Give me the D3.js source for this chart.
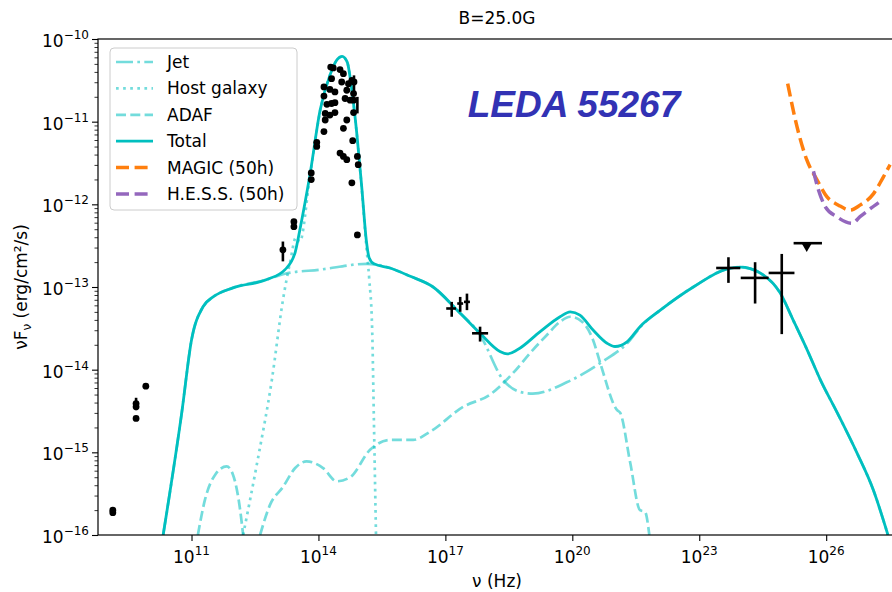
<!DOCTYPE html>
<html>
<head>
<meta charset="utf-8">
<script src="https://cdn.jsdelivr.net/npm/d3@7"></script>
<style>
    body { margin: 0; background: #ffffff; }
    text { font-family: "DejaVu Sans", sans-serif; fill: #000; }
</style>
</head>
<body>
<div id="chart"></div>
<script>

// all values are [log10 nu (Hz), log10 nuFnu (erg/cm2/s)]

const jetCurve = [
    [10.33, -16.0], [10.77, -14.52], [11.0, -13.64], [11.27, -13.24], [11.51, -13.12],
    [11.98, -13.01], [12.78, -12.91], [13.21, -12.84], [14.04, -12.79], [15.15, -12.72],
    [15.69, -12.77], [16.17, -12.87], [16.71, -13.0], [17.28, -13.28], [17.82, -13.58],
    [18.36, -14.12], [18.77, -14.27], [19.07, -14.29], [19.88, -14.15], [20.66, -13.92],
    [21.37, -13.64], [21.6, -13.49], [22.08, -13.28], [22.86, -13.0], [23.66, -12.78],
    [23.97, -12.76], [24.44, -12.83], [24.91, -13.07], [25.22, -13.4], [25.55, -13.76],
    [25.86, -14.12], [26.26, -14.52], [26.73, -15.01], [27.11, -15.45], [27.46, -16.0]
];

const hostCurve = [
    [12.22, -16.0], [12.55, -15.13], [12.9, -14.12], [13.16, -13.16], [13.33, -12.7],
    [13.47, -12.4], [13.56, -12.45], [13.8, -11.66], [14.04, -10.87], [14.27, -10.44],
    [14.44, -10.25], [14.56, -10.21], [14.68, -10.28], [14.79, -10.62], [14.91, -11.17],
    [15.03, -11.85], [15.13, -12.5], [15.2, -12.9], [15.27, -13.52], [15.31, -14.6],
    [15.36, -16.0]
];

const adafCurveLow = [
    [11.15, -16.0], [11.32, -15.57], [11.56, -15.27], [11.83, -15.17], [11.98, -15.27],
    [12.15, -15.7], [12.22, -16.0]
];

const adafCurveHigh = [
    [12.62, -16.0], [12.86, -15.63], [13.16, -15.42], [13.45, -15.19], [13.72, -15.11],
    [14.11, -15.19], [14.43, -15.35], [14.75, -15.3], [15.22, -14.97], [15.69, -14.85],
    [16.24, -14.85], [16.64, -14.75], [17.42, -14.45], [18.06, -14.3], [18.6, -14.04],
    [19.07, -13.76], [19.4, -13.58], [19.71, -13.42], [19.95, -13.36], [20.23, -13.42],
    [20.49, -13.64], [20.66, -13.92], [21.06, -14.49], [21.13, -14.52], [21.37, -15.13],
    [21.6, -15.7], [21.72, -15.72], [21.82, -16.0]
];

const totalCurve = [
    [10.33, -16.0], [10.77, -14.52], [11.0, -13.64], [11.27, -13.24], [11.51, -13.12],
    [11.98, -13.01], [12.78, -12.91], [13.21, -12.79], [13.45, -12.58], [13.56, -12.31],
    [13.8, -11.64], [14.04, -10.86], [14.27, -10.44], [14.44, -10.25], [14.56, -10.21],
    [14.68, -10.28], [14.79, -10.62], [14.91, -11.16], [15.03, -11.83], [15.13, -12.43],
    [15.2, -12.65], [15.31, -12.72], [15.69, -12.77], [16.17, -12.87], [16.71, -13.0],
    [17.28, -13.28], [17.82, -13.56], [18.29, -13.78], [18.46, -13.81], [18.7, -13.76],
    [19.24, -13.54], [19.71, -13.36], [19.95, -13.3], [20.18, -13.34], [20.49, -13.52],
    [20.82, -13.68], [21.01, -13.72], [21.3, -13.66], [21.6, -13.48], [22.08, -13.28],
    [22.86, -13.0], [23.66, -12.78], [23.97, -12.76], [24.44, -12.83], [24.91, -13.07],
    [25.22, -13.4], [25.55, -13.76], [25.86, -14.12], [26.26, -14.52], [26.73, -15.01],
    [27.11, -15.45], [27.46, -16.0]
];

const magicSens = [
    [25.09, -10.54], [25.31, -11.06], [25.54, -11.46], [25.78, -11.7], [26.02, -11.91],
    [26.29, -12.01], [26.57, -12.07], [26.8, -12.01], [27.12, -11.87], [27.35, -11.67],
    [27.51, -11.52]
];

const hessSens = [
    [25.7, -11.6], [25.82, -11.83], [25.98, -12.03], [26.25, -12.15], [26.61, -12.23],
    [26.8, -12.15], [27.0, -12.07], [27.24, -11.98]
];

// plain flux points (radio, IR / optical)
const dataPoints = [
    [9.14, -15.7], [9.14, -15.73], [9.69, -14.41], [9.69, -14.45], [9.69, -14.59], [9.92, -14.2],
    [13.16, -12.55], [13.42, -12.21], [13.42, -12.27], [13.83, -11.62], [13.83, -11.7],
    [13.96, -11.25], [13.96, -11.3], [14.13, -10.58], [14.13, -10.69], [14.13, -11.12],
    [14.16, -10.9], [14.16, -10.98], [14.2, -10.79], [14.27, -10.61], [14.27, -10.92],
    [14.29, -10.34], [14.31, -10.48], [14.31, -10.78], [14.35, -10.35], [14.39, -10.64],
    [14.39, -10.77], [14.39, -10.89], [14.51, -10.37], [14.51, -11.38], [14.55, -10.52],
    [14.59, -10.42], [14.59, -11.08], [14.59, -11.42], [14.63, -10.72], [14.67, -10.62],
    [14.67, -10.98], [14.67, -11.46], [14.71, -10.54], [14.75, -10.74], [14.79, -10.5],
    [14.79, -11.74], [14.81, -11.23], [14.83, -10.66], [14.83, -10.74], [14.83, -10.89],
    [14.84, -10.52], [14.92, -11.42], [14.92, -12.37], [14.94, -11.52]
];

// [nu, flux, nuLow, nuHigh, fluxLow, fluxHigh]
const errorPoints = [
    [9.69, -14.41, 9.69, 9.69, -14.49, -14.34],
    [13.16, -12.55, 13.16, 13.16, -12.69, -12.45],
    [14.84, -10.52, 14.84, 14.84, -10.66, -10.44],
    [14.92, -10.8, 14.92, 14.92, -10.9, -10.7],
    [17.15, -13.26, 17.02, 17.25, -13.36, -13.18],
    [17.35, -13.2, 17.28, 17.42, -13.3, -13.12],
    [17.51, -13.18, 17.44, 17.58, -13.28, -13.08],
    [17.82, -13.56, 17.63, 18.01, -13.66, -13.48],
    [23.69, -12.77, 23.4, 23.97, -12.95, -12.64],
    [24.32, -12.89, 23.98, 24.64, -13.2, -12.7],
    [24.95, -12.83, 24.64, 25.25, -13.57, -12.6]
];

// [nu, flux, nuLow, nuHigh]
const upperLimits = [
    [25.54, -12.47, 25.23, 25.9]
];

const xTickExps = [11, 14, 17, 20, 23, 26];
const yTickExps = [-16, -15, -14, -13, -12, -11, -10];

const legendItems = [
    { label: "Jet", color: "#00bfbf", opacity: 0.55, dash: "17,4.3,2.7,4.3", width: 2.7 },
    { label: "Host galaxy", color: "#00bfbf", opacity: 0.55, dash: "2.7,4.4", width: 2.7 },
    { label: "ADAF", color: "#00bfbf", opacity: 0.55, dash: "10,4.3", width: 2.7 },
    { label: "Total", color: "#00bfbf", opacity: 1, dash: null, width: 2.8 },
    { label: "MAGIC (50h)", color: "#ff7f0e", opacity: 1, dash: "13,5.6", width: 3.5 },
    { label: "H.E.S.S. (50h)", color: "#9467bd", opacity: 1, dash: "13,5.6", width: 3.5 }
];

function drawSED() {

    const dimensions = {
        width: 892,
        height: 592,
        left: 98,
        right: 896,
        top: 39,
        bottom: 535
    };

    const svg = d3.select("#chart")
        .append("svg")
        .attr("width", dimensions.width)
        .attr("height", dimensions.height);

    const xScale = d3.scaleLog()
        .domain([10 ** 8.79, 10 ** 27.65])
        .range([dimensions.left, dimensions.right]);

    const yScale = d3.scaleLog()
        .domain([1e-16, 1e-10])
        .range([dimensions.bottom, dimensions.top]);

    const xAccessor = d => xScale(10 ** d[0]);
    const yAccessor = d => yScale(10 ** d[1]);

    svg.append("clipPath")
        .attr("id", "plot-clip")
        .append("rect")
        .attr("x", dimensions.left)
        .attr("y", dimensions.top)
        .attr("width", dimensions.right - dimensions.left)
        .attr("height", dimensions.bottom - dimensions.top);

    const plot = svg.append("g").attr("clip-path", "url(#plot-clip)");

    const line = d3.line()
        .x(xAccessor)
        .y(yAccessor)
        .curve(d3.curveMonotoneX);

    const drawCurve = (data, style) => {
        plot.append("path")
            .datum(data)
            .attr("fill", "none")
            .attr("stroke", style.color)
            .attr("stroke-opacity", style.opacity)
            .attr("stroke-width", style.width)
            .attr("stroke-dasharray", style.dash)
            .attr("d", line);
    };

    drawCurve(jetCurve, legendItems[0]);
    drawCurve(hostCurve, legendItems[1]);
    drawCurve(adafCurveLow, legendItems[2]);
    drawCurve(adafCurveHigh, legendItems[2]);
    drawCurve(totalCurve, legendItems[3]);
    drawCurve(magicSens, legendItems[4]);
    drawCurve(hessSens, legendItems[5]);

    // error bars
    const bars = plot.append("g")
        .attr("stroke", "#000")
        .attr("stroke-width", 2.6);

    bars.selectAll("line.xerr")
        .data(errorPoints.filter(d => d[2] !== d[3]))
        .join("line")
        .attr("class", "xerr")
        .attr("x1", d => xScale(10 ** d[2]))
        .attr("x2", d => xScale(10 ** d[3]))
        .attr("y1", yAccessor)
        .attr("y2", yAccessor);

    bars.selectAll("line.yerr")
        .data(errorPoints)
        .join("line")
        .attr("class", "yerr")
        .attr("x1", xAccessor)
        .attr("x2", xAccessor)
        .attr("y1", d => yScale(10 ** d[4]))
        .attr("y2", d => yScale(10 ** d[5]));

    bars.selectAll("line.ul")
        .data(upperLimits)
        .join("line")
        .attr("class", "ul")
        .attr("x1", d => xScale(10 ** d[2]))
        .attr("x2", d => xScale(10 ** d[3]))
        .attr("y1", yAccessor)
        .attr("y2", yAccessor);

    plot.selectAll("path.ul-marker")
        .data(upperLimits)
        .join("path")
        .attr("class", "ul-marker")
        .attr("d", d3.symbol(d3.symbolTriangle, 45))
        .attr("fill", "#000")
        .attr("transform", d => `translate(${xAccessor(d)}, ${yAccessor(d) + 3}) rotate(180)`);

    plot.selectAll("circle.pt")
        .data(dataPoints)
        .join("circle")
        .attr("class", "pt")
        .attr("r", 3.4)
        .attr("fill", "#000")
        .attr("cx", xAccessor)
        .attr("cy", yAccessor);

    // axes
    const xAxis = d3.axisBottom(xScale)
        .tickValues(xTickExps.map(e => 10 ** e))
        .tickSize(6)
        .tickFormat("");

    const xAxisGroup = svg.append("g")
        .attr("transform", `translate(0, ${dimensions.bottom})`)
        .call(xAxis);
    xAxisGroup.select(".domain").remove();
    xAxisGroup.selectAll(".tick line").attr("stroke", "#000").attr("stroke-width", 1.1);

    const yAxis = d3.axisLeft(yScale)
        .tickValues(yTickExps.map(e => 10 ** e))
        .tickSize(6)
        .tickFormat("");

    const minorValues = [];
    yTickExps.slice(0, -1).forEach(e => {
        for (let m = 2; m <= 9; m++) minorValues.push(m * 10 ** e);
    });

    const yMinorAxis = d3.axisLeft(yScale)
        .tickValues(minorValues)
        .tickSize(3.5)
        .tickFormat("");

    const yAxisGroup = svg.append("g")
        .attr("transform", `translate(${dimensions.left}, 0)`)
        .call(yAxis);
    yAxisGroup.select(".domain").remove();
    yAxisGroup.selectAll(".tick line").attr("stroke", "#000").attr("stroke-width", 1.1);

    const yMinorGroup = svg.append("g")
        .attr("transform", `translate(${dimensions.left}, 0)`)
        .call(yMinorAxis);
    yMinorGroup.select(".domain").remove();
    yMinorGroup.selectAll(".tick line").attr("stroke", "#000").attr("stroke-width", 0.8);

    // tick labels 10^n
    const powerLabel = (sel, e) => {
        sel.append("tspan").text("10");
        sel.append("tspan")
            .attr("font-size", 12)
            .attr("dy", -8)
            .text(e < 0 ? "\u2212" + Math.abs(e) : e);
    };

    xTickExps.forEach(e => {
        svg.append("text")
            .attr("x", xScale(10 ** e))
            .attr("y", dimensions.bottom + 28)
            .attr("text-anchor", "middle")
            .attr("font-size", 17)
            .call(powerLabel, e);
    });

    yTickExps.forEach(e => {
        svg.append("text")
            .attr("x", dimensions.left - 9)
            .attr("y", yScale(10 ** e) + 8)
            .attr("text-anchor", "end")
            .attr("font-size", 17)
            .call(powerLabel, e);
    });

    // frame
    svg.append("rect")
        .attr("x", dimensions.left)
        .attr("y", dimensions.top)
        .attr("width", dimensions.right - dimensions.left)
        .attr("height", dimensions.bottom - dimensions.top)
        .attr("fill", "none")
        .attr("stroke", "#000")
        .attr("stroke-width", 1.2);

    // titles
    const midX = (dimensions.left + dimensions.right) / 2;

    svg.append("text")
        .attr("x", midX)
        .attr("y", 24)
        .attr("text-anchor", "middle")
        .attr("font-size", 17)
        .text("B=25.0G");

    svg.append("text")
        .attr("x", midX)
        .attr("y", 587)
        .attr("text-anchor", "middle")
        .attr("font-size", 17)
        .text("\u03bd (Hz)");

    const yLabel = svg.append("text")
        .attr("transform", `translate(27, ${(dimensions.top + dimensions.bottom) / 2}) rotate(-90)`)
        .attr("text-anchor", "middle")
        .attr("font-size", 17);
    yLabel.append("tspan").text("\u03bdF");
    yLabel.append("tspan").attr("font-size", 12).attr("dy", 4).text("\u03bd");
    yLabel.append("tspan").attr("dy", -4).text(" (erg/cm\u00b2/s)");

    svg.append("text")
        .attr("x", 574)
        .attr("y", 117)
        .attr("text-anchor", "middle")
        .style("font-family", "'Liberation Sans', Arial, sans-serif")
        .style("font-weight", "bold")
        .style("font-style", "italic")
        .style("font-size", "37px")
        .style("fill", "#3232b4")
        .text("LEDA 55267");

    // legend
    const legend = svg.append("g");

    legend.append("rect")
        .attr("x", 110)
        .attr("y", 48)
        .attr("width", 187)
        .attr("height", 162)
        .attr("rx", 4)
        .attr("fill", "#fff")
        .attr("fill-opacity", 0.8)
        .attr("stroke", "#cccccc")
        .attr("stroke-width", 1);

    const rows = legend.selectAll("g.row")
        .data(legendItems)
        .join("g")
        .attr("class", "row")
        .attr("transform", (d, i) => `translate(0, ${62 + i * 26.4})`);

    rows.append("line")
        .attr("x1", 116)
        .attr("x2", 153)
        .attr("stroke", d => d.color)
        .attr("stroke-opacity", d => d.opacity)
        .attr("stroke-width", d => d.width)
        .attr("stroke-dasharray", d => d.dash);

    rows.append("text")
        .attr("x", 167)
        .attr("y", 6)
        .attr("font-size", 17)
        .text(d => d.label);
}

drawSED();

</script>
</body>
</html>
